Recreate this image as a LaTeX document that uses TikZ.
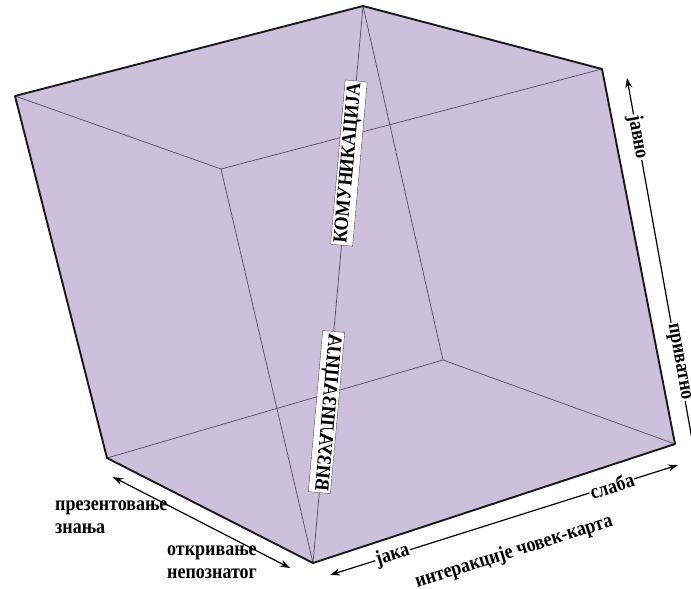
\documentclass[tikz,border=0pt]{standalone}
\usepackage{fontspec}
\setmainfont{Liberation Serif}
\usetikzlibrary{arrows.meta,calc}

\definecolor{cubefill}{RGB}{205,192,221}
\definecolor{cubeline}{RGB}{95,80,105}

\begin{document}
\begin{tikzpicture}[
    x=1pt, y=-1pt,
    rim/.style={line width=1.9pt,draw=black!90,line join=round},
    edge/.style={line width=0.75pt,draw=cubeline},
    tag/.style={draw=black!70,fill=white,inner sep=2pt,font=\bfseries\fontsize{18}{18}\selectfont},
    axis/.style={line width=1.2pt,{Stealth[length=10pt,width=7pt]}-{Stealth[length=10pt,width=7pt]}},
    axlbl/.style={fill=white,inner sep=1pt,yscale=1.15,font=\bfseries\fontsize{18}{18}\selectfont},
    side/.style={align=left,inner sep=0pt,yscale=1.15,font=\bfseries\fontsize{18}{20}\selectfont}
]
\clip (0,0) rectangle (691,589);

% corners of the cube
\coordinate (L) at (15,96);
\coordinate (T) at (363,6);
\coordinate (R) at (602,69);
\coordinate (BR) at (675,444);
\coordinate (F) at (313,563);
\coordinate (BL) at (107,458);
\coordinate (I1) at (221,169);
\coordinate (I2) at (443,360);

\fill[cubefill] (L) -- (T) -- (R) -- (BR) -- (F) -- (BL) -- cycle;
\draw[edge] (I1) -- (L) (I1) -- (R) (I1) -- (F);
\draw[edge] (I2) -- (BL) (I2) -- (BR) (I2) -- (T);
\draw[edge] (T) -- (F);
\draw[rim] (L) -- (T) -- (R) -- (BR) -- (F) -- (BL) -- cycle;

\node[tag,rotate=84.9,yscale=1.12] (kom) at ($(T)!0.282!(F)$) {КОМУНИКАЦИЈА};
\node[tag,rotate=84.9,yscale=-1.12] (viz) at ($(T)!0.729!(F)$) {ВИЗУАЛИЗАЦИЈА};

% public / private
\coordinate (pubtip) at (627,78);
\coordinate (privtip) at (699,478);
\draw[axis] (pubtip) -- (privtip)
    node[axlbl,sloped,pos=0.148] (javno) {јавно}
    node[axlbl,sloped,pos=0.71] (privatno) {приватно};

% strong / weak interaction
\coordinate (strongtip) at (330,575);
\coordinate (weaktip) at (678,465);
\draw[axis] (strongtip) -- (weaktip)
    node[axlbl,sloped,pos=0.18] (jaka) {јака}
    node[axlbl,sloped,pos=0.81] (slaba) {слаба};
\node[rotate=17.6,yscale=1.15,inner sep=0pt,font=\bfseries\fontsize{18}{18}\selectfont] (inter) at (514,552) {интеракције човек-карта};

% presenting / discovering
\coordinate (prestip) at (113,477);
\coordinate (disctip) at (290,568);
\draw[axis] (prestip) -- (disctip);
\node[side,anchor=north west] (pres) at (55,501) {презентовање\\знања};
\node[side,anchor=north west] (disc) at (167,546) {откривање\\непознатог};

\end{tikzpicture}
\end{document}
